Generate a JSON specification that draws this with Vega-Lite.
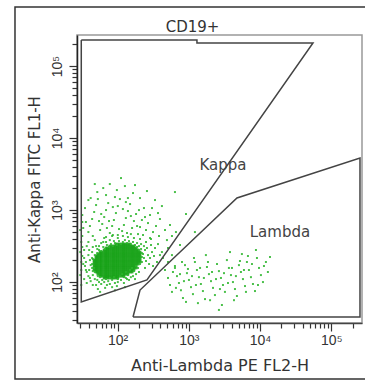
{
 "$schema": "https://vega.github.io/schema/vega-lite/v6.json",
 "width": 285, "height": 288,
 "autosize": "none",
 "padding": {"left": 77, "top": 35, "right": 3, "bottom": 63},
 "background": "white",
 "title": {"text": "CD19+", "anchor": "middle", "frame": "group", "dx": -27, "dy": 41, "offset": 0, "baseline": "alphabetic", "font": "DejaVu Sans", "fontSize": 15, "fontWeight": "normal", "color": "#333"},
 "config": {"view": {"stroke": "#999", "strokeWidth": 1.5}},
 "datasets": {
  "frame": [{"x": 3.64, "x2": 920000, "y": 660000, "y2": 4.5}],
  "gates": [
   {"gate": "Kappa", "i": 0, "x": 31, "y": 230000},
   {"gate": "Kappa", "i": 1, "x": 1303, "y": 230000},
   {"gate": "Kappa", "i": 2, "x": 1303, "y": 209000},
   {"gate": "Kappa", "i": 3, "x": 55400, "y": 209000},
   {"gate": "Kappa", "i": 4, "x": 259, "y": 107},
   {"gate": "Kappa", "i": 5, "x": 31, "y": 52.8},
   {"gate": "Kappa", "i": 6, "x": 31, "y": 230000},
   {"gate": "Lambda", "i": 0, "x": 165, "y": 32.7},
   {"gate": "Lambda", "i": 1, "x": 207, "y": 77.4},
   {"gate": "Lambda", "i": 2, "x": 4750, "y": 1470},
   {"gate": "Lambda", "i": 3, "x": 253000, "y": 5290},
   {"gate": "Lambda", "i": 4, "x": 253000, "y": 32.7},
   {"gate": "Lambda", "i": 5, "x": 165, "y": 32.7}
  ],
  "labels": [
   {"label": "Kappa", "x": 3020, "y": 4220},
   {"label": "Lambda", "x": 19050, "y": 495}
  ],
  "core": [
   {"x":95,"y":337},{"x":101,"y":337},{"x":108,"y":337},{"x":116,"y":337},{"x":123,"y":337},{"x":131,"y":337},{"x":140,"y":337},{"x":150,"y":337},
   {"x":78,"y":316},{"x":84,"y":316},{"x":89,"y":316},{"x":95,"y":316},{"x":101,"y":316},{"x":108,"y":316},{"x":116,"y":316},{"x":123,"y":316},{"x":131,"y":316},{"x":140,"y":316},{"x":150,"y":316},{"x":160,"y":316},{"x":170,"y":316},
   {"x":69,"y":297},{"x":73,"y":297},{"x":78,"y":297},{"x":84,"y":297},{"x":89,"y":297},{"x":95,"y":297},{"x":101,"y":297},{"x":108,"y":297},{"x":116,"y":297},{"x":123,"y":297},{"x":131,"y":297},{"x":140,"y":297},{"x":150,"y":297},{"x":160,"y":297},{"x":170,"y":297},{"x":182,"y":297},
   {"x":65,"y":279},{"x":69,"y":279},{"x":73,"y":279},{"x":78,"y":279},{"x":84,"y":279},{"x":89,"y":279},{"x":95,"y":279},{"x":101,"y":279},{"x":108,"y":279},{"x":116,"y":279},{"x":123,"y":279},{"x":131,"y":279},{"x":140,"y":279},{"x":150,"y":279},{"x":160,"y":279},{"x":170,"y":279},{"x":182,"y":279},{"x":194,"y":279},
   {"x":57,"y":261},{"x":60,"y":261},{"x":65,"y":261},{"x":69,"y":261},{"x":73,"y":261},{"x":78,"y":261},{"x":84,"y":261},{"x":89,"y":261},{"x":95,"y":261},{"x":101,"y":261},{"x":108,"y":261},{"x":116,"y":261},{"x":123,"y":261},{"x":131,"y":261},{"x":140,"y":261},{"x":150,"y":261},{"x":160,"y":261},{"x":170,"y":261},{"x":182,"y":261},{"x":194,"y":261},{"x":207,"y":261},
   {"x":53,"y":245},{"x":57,"y":245},{"x":60,"y":245},{"x":65,"y":245},{"x":69,"y":245},{"x":73,"y":245},{"x":78,"y":245},{"x":84,"y":245},{"x":89,"y":245},{"x":95,"y":245},{"x":101,"y":245},{"x":108,"y":245},{"x":116,"y":245},{"x":123,"y":245},{"x":131,"y":245},{"x":140,"y":245},{"x":150,"y":245},{"x":160,"y":245},{"x":170,"y":245},{"x":182,"y":245},{"x":194,"y":245},{"x":207,"y":245},
   {"x":50,"y":230},{"x":53,"y":230},{"x":57,"y":230},{"x":60,"y":230},{"x":65,"y":230},{"x":69,"y":230},{"x":73,"y":230},{"x":78,"y":230},{"x":84,"y":230},{"x":89,"y":230},{"x":95,"y":230},{"x":101,"y":230},{"x":108,"y":230},{"x":116,"y":230},{"x":123,"y":230},{"x":131,"y":230},{"x":140,"y":230},{"x":150,"y":230},{"x":160,"y":230},{"x":170,"y":230},{"x":182,"y":230},{"x":194,"y":230},{"x":207,"y":230},
   {"x":50,"y":216},{"x":53,"y":216},{"x":57,"y":216},{"x":60,"y":216},{"x":65,"y":216},{"x":69,"y":216},{"x":73,"y":216},{"x":78,"y":216},{"x":84,"y":216},{"x":89,"y":216},{"x":95,"y":216},{"x":101,"y":216},{"x":108,"y":216},{"x":116,"y":216},{"x":123,"y":216},{"x":131,"y":216},{"x":140,"y":216},{"x":150,"y":216},{"x":160,"y":216},{"x":170,"y":216},{"x":182,"y":216},{"x":194,"y":216},{"x":207,"y":216},
   {"x":47,"y":202},{"x":50,"y":202},{"x":53,"y":202},{"x":57,"y":202},{"x":60,"y":202},{"x":65,"y":202},{"x":69,"y":202},{"x":73,"y":202},{"x":78,"y":202},{"x":84,"y":202},{"x":89,"y":202},{"x":95,"y":202},{"x":101,"y":202},{"x":108,"y":202},{"x":116,"y":202},{"x":123,"y":202},{"x":131,"y":202},{"x":140,"y":202},{"x":150,"y":202},{"x":160,"y":202},{"x":170,"y":202},{"x":182,"y":202},{"x":194,"y":202},{"x":207,"y":202},
   {"x":47,"y":190},{"x":50,"y":190},{"x":53,"y":190},{"x":57,"y":190},{"x":60,"y":190},{"x":65,"y":190},{"x":69,"y":190},{"x":73,"y":190},{"x":78,"y":190},{"x":84,"y":190},{"x":89,"y":190},{"x":95,"y":190},{"x":101,"y":190},{"x":108,"y":190},{"x":116,"y":190},{"x":123,"y":190},{"x":131,"y":190},{"x":140,"y":190},{"x":150,"y":190},{"x":160,"y":190},{"x":170,"y":190},{"x":182,"y":190},{"x":194,"y":190},{"x":207,"y":190},
   {"x":47,"y":178},{"x":50,"y":178},{"x":53,"y":178},{"x":57,"y":178},{"x":60,"y":178},{"x":65,"y":178},{"x":69,"y":178},{"x":73,"y":178},{"x":78,"y":178},{"x":84,"y":178},{"x":89,"y":178},{"x":95,"y":178},{"x":101,"y":178},{"x":108,"y":178},{"x":116,"y":178},{"x":123,"y":178},{"x":131,"y":178},{"x":140,"y":178},{"x":150,"y":178},{"x":160,"y":178},{"x":170,"y":178},{"x":182,"y":178},{"x":194,"y":178},
   {"x":47,"y":167},{"x":50,"y":167},{"x":53,"y":167},{"x":57,"y":167},{"x":60,"y":167},{"x":65,"y":167},{"x":69,"y":167},{"x":73,"y":167},{"x":78,"y":167},{"x":84,"y":167},{"x":89,"y":167},{"x":95,"y":167},{"x":101,"y":167},{"x":108,"y":167},{"x":116,"y":167},{"x":123,"y":167},{"x":131,"y":167},{"x":140,"y":167},{"x":150,"y":167},{"x":160,"y":167},{"x":170,"y":167},{"x":182,"y":167},
   {"x":47,"y":157},{"x":50,"y":157},{"x":53,"y":157},{"x":57,"y":157},{"x":60,"y":157},{"x":65,"y":157},{"x":69,"y":157},{"x":73,"y":157},{"x":78,"y":157},{"x":84,"y":157},{"x":89,"y":157},{"x":95,"y":157},{"x":101,"y":157},{"x":108,"y":157},{"x":116,"y":157},{"x":123,"y":157},{"x":131,"y":157},{"x":140,"y":157},{"x":150,"y":157},{"x":160,"y":157},{"x":170,"y":157},{"x":182,"y":157},
   {"x":47,"y":147},{"x":50,"y":147},{"x":53,"y":147},{"x":57,"y":147},{"x":60,"y":147},{"x":65,"y":147},{"x":69,"y":147},{"x":73,"y":147},{"x":78,"y":147},{"x":84,"y":147},{"x":89,"y":147},{"x":95,"y":147},{"x":101,"y":147},{"x":108,"y":147},{"x":116,"y":147},{"x":123,"y":147},{"x":131,"y":147},{"x":140,"y":147},{"x":150,"y":147},{"x":160,"y":147},{"x":170,"y":147},
   {"x":50,"y":138},{"x":53,"y":138},{"x":57,"y":138},{"x":60,"y":138},{"x":65,"y":138},{"x":69,"y":138},{"x":73,"y":138},{"x":78,"y":138},{"x":84,"y":138},{"x":89,"y":138},{"x":95,"y":138},{"x":101,"y":138},{"x":108,"y":138},{"x":116,"y":138},{"x":123,"y":138},{"x":131,"y":138},{"x":140,"y":138},{"x":150,"y":138},{"x":160,"y":138},
   {"x":53,"y":129},{"x":57,"y":129},{"x":60,"y":129},{"x":65,"y":129},{"x":69,"y":129},{"x":73,"y":129},{"x":78,"y":129},{"x":84,"y":129},{"x":89,"y":129},{"x":95,"y":129},{"x":101,"y":129},{"x":108,"y":129},{"x":116,"y":129},{"x":123,"y":129},{"x":131,"y":129},{"x":140,"y":129},
   {"x":57,"y":121},{"x":60,"y":121},{"x":65,"y":121},{"x":69,"y":121},{"x":73,"y":121},{"x":78,"y":121},{"x":84,"y":121},{"x":89,"y":121},{"x":95,"y":121},{"x":101,"y":121},{"x":108,"y":121},{"x":116,"y":121},{"x":123,"y":121},
   {"x":65,"y":114},{"x":69,"y":114},{"x":73,"y":114},{"x":78,"y":114},{"x":84,"y":114},{"x":89,"y":114},{"x":95,"y":114},{"x":101,"y":114}
  ],
  "scatter": [
   {"x":34,"y":216},{"x":36,"y":190},{"x":35,"y":167},{"x":39,"y":237},{"x":40,"y":147},{"x":37,"y":138},{"x":41,"y":202},{"x":42,"y":172},{"x":44,"y":261},{"x":45,"y":125},
   {"x":41,"y":114},{"x":47,"y":157},{"x":44,"y":216},{"x":48,"y":138},{"x":45,"y":209},{"x":33,"y":178},{"x":36,"y":147},{"x":39,"y":121},{"x":42,"y":103},{"x":40,"y":279},
   {"x":45,"y":307},{"x":48,"y":110},{"x":52,"y":107},{"x":55,"y":100},{"x":50,"y":91},{"x":57,"y":117},{"x":61,"y":107},{"x":53,"y":121},{"x":59,"y":94},{"x":65,"y":100},
   {"x":69,"y":110},{"x":74,"y":103},{"x":78,"y":114},{"x":71,"y":91},{"x":84,"y":107},{"x":89,"y":117},{"x":92,"y":97},{"x":101,"y":110},{"x":108,"y":121},{"x":98,"y":88},
   {"x":116,"y":129},{"x":123,"y":117},{"x":131,"y":138},{"x":140,"y":125},{"x":150,"y":147},{"x":136,"y":110},{"x":160,"y":157},{"x":170,"y":142},{"x":182,"y":167},{"x":194,"y":157},
   {"x":207,"y":178},{"x":220,"y":190},{"x":235,"y":216},{"x":228,"y":245},{"x":243,"y":279},{"x":251,"y":196},{"x":268,"y":237},{"x":259,"y":297},{"x":235,"y":316},{"x":214,"y":337},
   {"x":200,"y":316},{"x":188,"y":348},{"x":176,"y":327},{"x":165,"y":360},{"x":154,"y":337},{"x":145,"y":371},{"x":136,"y":348},{"x":127,"y":383},{"x":119,"y":360},{"x":112,"y":337},
   {"x":105,"y":371},{"x":98,"y":327},{"x":92,"y":348},{"x":86,"y":316},{"x":81,"y":337},{"x":76,"y":307},{"x":71,"y":327},{"x":67,"y":288},{"x":63,"y":307},{"x":59,"y":270},
   {"x":55,"y":279},{"x":52,"y":253},{"x":48,"y":237},{"x":286,"y":216},{"x":305,"y":261},{"x":277,"y":178},{"x":295,"y":327},{"x":325,"y":230},{"x":251,"y":360},{"x":207,"y":396},
   {"x":170,"y":409},{"x":140,"y":422},{"x":101,"y":409},{"x":78,"y":383},{"x":63,"y":360},{"x":50,"y":316},{"x":336,"y":297},{"x":358,"y":190},{"x":315,"y":167},{"x":243,"y":157},
   {"x":200,"y":138},{"x":165,"y":121},{"x":145,"y":107},{"x":123,"y":97},{"x":84,"y":85},{"x":67,"y":83},{"x":53,"y":80},{"x":45,"y":91},{"x":37,"y":97},{"x":34,"y":110},
   {"x":31,"y":147},{"x":32,"y":230},{"x":34,"y":279},{"x":37,"y":316},{"x":57,"y":73},{"x":92,"y":77},{"x":127,"y":85},{"x":176,"y":110},{"x":394,"y":237},{"x":370,"y":337},
   {"x":286,"y":409},{"x":86,"y":450},{"x":69,"y":422},{"x":48,"y":383},{"x":39,"y":360},{"x":32,"y":307},{"x":119,"y":436},{"x":154,"y":464},
   {"x":44,"y":178},{"x":44,"y":157},{"x":45,"y":142},{"x":220,"y":223},{"x":220,"y":253},{"x":214,"y":288},{"x":188,"y":307},{"x":200,"y":279},{"x":52,"y":288},{"x":55,"y":316},
   {"x":59,"y":348},{"x":69,"y":360},{"x":89,"y":371},{"x":182,"y":129},{"x":154,"y":117},{"x":101,"y":100},{"x":78,"y":94},{"x":112,"y":107},{"x":131,"y":114},
   {"x":33,"y":563},{"x":36,"y":682},{"x":32,"y":853},{"x":35,"y":1066},{"x":39,"y":495},{"x":41,"y":600},{"x":44,"y":751},{"x":47,"y":939},{"x":50,"y":1174},{"x":53,"y":1422},
   {"x":57,"y":528},{"x":61,"y":640},{"x":65,"y":800},{"x":69,"y":1000},{"x":74,"y":1251},{"x":78,"y":480},{"x":84,"y":600},{"x":89,"y":727},{"x":95,"y":909},{"x":101,"y":1137},
   {"x":108,"y":1422},{"x":116,"y":511},{"x":123,"y":620},{"x":131,"y":775},{"x":140,"y":969},{"x":150,"y":1212},{"x":160,"y":563},{"x":170,"y":704},{"x":182,"y":881},{"x":194,"y":464},
   {"x":207,"y":581},{"x":220,"y":727},{"x":235,"y":1066},{"x":251,"y":528},{"x":268,"y":660},{"x":286,"y":853},{"x":315,"y":495},{"x":347,"y":600},{"x":394,"y":751},{"x":464,"y":528},
   {"x":545,"y":620},{"x":661,"y":495},{"x":42,"y":1468},{"x":52,"y":1779},{"x":63,"y":2022},{"x":78,"y":2298},{"x":98,"y":1896},{"x":127,"y":2155},{"x":165,"y":1723},{"x":207,"y":1468},
   {"x":259,"y":1837},{"x":336,"y":1377},{"x":420,"y":1137},{"x":640,"y":1779},{"x":65,"y":409},{"x":84,"y":436},{"x":136,"y":480},{"x":105,"y":545},{"x":45,"y":436},{"x":59,"y":881},
   {"x":76,"y":704},{"x":119,"y":1033},{"x":154,"y":826},{"x":188,"y":600},{"x":228,"y":450},{"x":295,"y":396},{"x":382,"y":436},{"x":494,"y":383},{"x":581,"y":436},{"x":39,"y":1377},
   {"x":48,"y":2298},{"x":112,"y":2783},{"x":176,"y":2225},{"x":32,"y":436},{"x":92,"y":1516},{"x":69,"y":1616},{"x":140,"y":1468},{"x":86,"y":1101},{"x":55,"y":704},{"x":71,"y":563},
   {"x":101,"y":450},{"x":131,"y":1292},{"x":200,"y":1000},{"x":243,"y":800},{"x":305,"y":1066},{"x":370,"y":909},{"x":914,"y":881},{"x":1220,"y":495},{"x":753,"y":327},{"x":511,"y":297},
   {"x":420,"y":261},{"x":434,"y":216},{"x":511,"y":190},{"x":581,"y":237},{"x":640,"y":167},
   {"x":30,"y":528},{"x":31,"y":360},{"x":30,"y":261},{"x":31,"y":190},{"x":30,"y":125},{"x":31,"y":91},{"x":32,"y":682},
   {"x":464,"y":147},{"x":511,"y":114},{"x":545,"y":91},{"x":581,"y":73},{"x":640,"y":157},{"x":683,"y":121},{"x":728,"y":97},{"x":777,"y":77},{"x":829,"y":60},{"x":885,"y":172},
   {"x":943,"y":133},{"x":1006,"y":107},{"x":1074,"y":85},{"x":1145,"y":68},{"x":1220,"y":190},{"x":1302,"y":147},{"x":1389,"y":117},{"x":1480,"y":94},{"x":1580,"y":75},{"x":1690,"y":58},
   {"x":1800,"y":162},{"x":1920,"y":129},{"x":2050,"y":103},{"x":2190,"y":83},{"x":2330,"y":66},{"x":2490,"y":178},{"x":2650,"y":142},{"x":2830,"y":114},{"x":3020,"y":91},{"x":3220,"y":73},
   {"x":3430,"y":202},{"x":3660,"y":157},{"x":3910,"y":125},{"x":4170,"y":100},{"x":4450,"y":80},{"x":4740,"y":64},{"x":5060,"y":172},{"x":5400,"y":138},{"x":5760,"y":110},{"x":6150,"y":88},
   {"x":6550,"y":190},{"x":6990,"y":147},{"x":7460,"y":117},{"x":7960,"y":94},{"x":8500,"y":75},{"x":9060,"y":216},{"x":9670,"y":157},{"x":10300,"y":125},{"x":11000,"y":100},{"x":12100,"y":190},
   {"x":12900,"y":138},{"x":13800,"y":223},{"x":753,"y":129},{"x":974,"y":152},{"x":1261,"y":91},{"x":1630,"y":114},{"x":2120,"y":138},{"x":2740,"y":80},{"x":3550,"y":97},{"x":4590,"y":121},
   {"x":5950,"y":147},{"x":7710,"y":178},{"x":661,"y":83},{"x":856,"y":103},{"x":1109,"y":121},{"x":1440,"y":157},{"x":1860,"y":190},{"x":2410,"y":110},{"x":3120,"y":133},{"x":4040,"y":157},
   {"x":5230,"y":196},{"x":6770,"y":230},{"x":914,"y":53},{"x":1345,"y":51},{"x":1990,"y":56},{"x":2920,"y":48},{"x":4310,"y":56},{"x":2650,"y":41},{"x":600,"y":138},{"x":803,"y":190},
   {"x":1183,"y":216},{"x":1740,"y":237},{"x":3790,"y":261},{"x":5570,"y":245},{"x":8770,"y":279},{"x":11360,"y":167},{"x":9360,"y":91},{"x":6350,"y":73}
  ]
 },
 "encoding": {
  "x": {"field": "x", "type": "quantitative",
   "scale": {"type": "log", "domain": [27, 270000], "nice": false, "zero": false},
   "axis": {"title": "Anti-Lambda PE FL2-H", "titleFont": "DejaVu Sans", "titleFontSize": 16, "titleFontWeight": "normal", "titleColor": "#333", "titlePadding": 10,
    "values": [30,40,50,60,70,80,90,100,200,300,400,500,600,700,800,900,1000,2000,3000,4000,5000,6000,7000,8000,9000,10000,20000,30000,40000,50000,60000,70000,80000,90000,100000,200000],
    "labelExpr": "datum.value == 100 ? '10²' : datum.value == 1000 ? '10³' : datum.value == 10000 ? '10⁴' : datum.value == 100000 ? '10⁵' : ''",
    "labelFont": "Liberation Sans Narrow, Liberation Sans", "labelFontSize": 14, "labelColor": "#333", "labelPadding": 2, "labelFlush": false, "labelOverlap": false,
    "tickSize": {"condition": {"test": "indexof([100,1000,10000,100000], datum.value) >= 0", "value": 8}, "value": 5},
    "tickColor": "#333", "tickWidth": 1.2, "domainColor": "#444", "domainWidth": 1.5, "grid": false}},
  "y": {"field": "y", "type": "quantitative",
   "scale": {"type": "log", "domain": [27, 270000], "nice": false, "zero": false},
   "axis": {"title": "Anti-Kappa FITC FL1-H", "titleFont": "DejaVu Sans", "titleFontSize": 15, "titleFontWeight": "normal", "titleColor": "#333", "titlePadding": 8,
    "values": [30,40,50,60,70,80,90,100,200,300,400,500,600,700,800,900,1000,2000,3000,4000,5000,6000,7000,8000,9000,10000,20000,30000,40000,50000,60000,70000,80000,90000,100000,200000],
    "labelExpr": "datum.value == 100 ? '10²' : datum.value == 1000 ? '10³' : datum.value == 10000 ? '10⁴' : datum.value == 100000 ? '10⁵' : ''",
    "labelFont": "Liberation Sans Narrow, Liberation Sans", "labelFontSize": 14, "labelColor": "#333", "labelPadding": 5, "labelAngle": 270, "labelFlush": false, "labelOverlap": false,
    "tickSize": {"condition": {"test": "indexof([100,1000,10000,100000], datum.value) >= 0", "value": 8}, "value": 5},
    "tickColor": "#333", "tickWidth": 1.2, "domainColor": "#222", "domainWidth": 1.5, "grid": false}}
 },
 "layer": [
  {"data": {"name": "frame"},
   "mark": {"type": "rect", "fillOpacity": 0, "stroke": "#333", "strokeWidth": 1.5, "clip": false},
   "encoding": {"x2": {"field": "x2"}, "y2": {"field": "y2"}}},
  {"data": {"name": "core"},
   "mark": {"type": "square", "size": 8, "color": "#12a012", "opacity": 0.85, "clip": true}},
  {"data": {"name": "scatter"},
   "mark": {"type": "square", "size": 4, "color": "#2cb52c", "opacity": 0.85, "clip": true}},
  {"data": {"name": "gates"},
   "mark": {"type": "line", "color": "#444", "strokeWidth": 1.5, "clip": true},
   "encoding": {"detail": {"field": "gate"}, "order": {"field": "i", "type": "quantitative"}}},
  {"data": {"name": "labels"},
   "mark": {"type": "text", "font": "DejaVu Sans", "fontSize": 15, "color": "#444", "align": "center", "baseline": "middle"},
   "encoding": {"text": {"field": "label"}}}
 ]
}
